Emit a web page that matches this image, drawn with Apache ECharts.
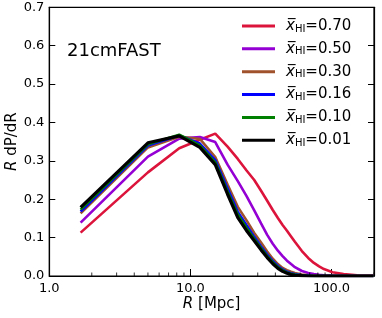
<!DOCTYPE html>
<html>
<head>
<meta charset="utf-8">
<script src="https://cdn.jsdelivr.net/npm/echarts@6/dist/echarts.min.js"></script>
<style>html,body{margin:0;padding:0;background:#fff}#c{width:382px;height:318px}</style>
</head>
<body>
<div id="c"></div>
<script>
// Bin centres R [Mpc]
var R = [1.667, 5, 8.333, 11.667, 15, 18.333, 21.667, 25, 28.333, 31.667, 35, 38.333, 41.667, 45, 48.333, 51.667, 55, 61.667, 68.333, 75, 81.667, 88.333, 101.667, 121.667, 151.667, 198.333];
var seriesNames = ['0.70', '0.50', '0.30', '0.16', '0.10', '0.01'];
var seriesColors = ['#dc143c', '#9400d3', '#a0522d', '#0000ff', '#008000', '#000000'];
var x070 = [0.113, 0.270, 0.333, 0.355, 0.371, 0.337, 0.305, 0.275, 0.250, 0.222, 0.196, 0.172, 0.151, 0.133, 0.118, 0.103, 0.089, 0.065, 0.047, 0.034, 0.025, 0.018, 0.010, 0.005, 0.002, 0.001];
var x050 = [0.139, 0.311, 0.358, 0.362, 0.349, 0.290, 0.247, 0.208, 0.171, 0.137, 0.107, 0.084, 0.066, 0.052, 0.040, 0.031, 0.023, 0.013, 0.008, 0.005, 0.003, 0.002, 0.001, 0, 0, 0];
var x030 = [0.163, 0.335, 0.363, 0.357, 0.310, 0.238, 0.180, 0.145, 0.112, 0.087, 0.064, 0.045, 0.031, 0.021, 0.015, 0.011, 0.008, 0.004, 0.002, 0.001, 0, 0, 0, 0, 0, 0];
var x016 = [0.168, 0.340, 0.366, 0.345, 0.302, 0.228, 0.167, 0.132, 0.102, 0.077, 0.056, 0.039, 0.026, 0.017, 0.011, 0.007, 0.005, 0.002, 0.001, 0, 0, 0, 0, 0, 0, 0];
var x010 = [0.173, 0.343, 0.368, 0.340, 0.296, 0.220, 0.160, 0.125, 0.097, 0.073, 0.052, 0.036, 0.023, 0.015, 0.009, 0.006, 0.004, 0.0015, 0.0005, 0, 0, 0, 0, 0, 0, 0];
var x001 = [0.179, 0.347, 0.365, 0.335, 0.290, 0.213, 0.152, 0.118, 0.092, 0.068, 0.048, 0.032, 0.020, 0.012, 0.007, 0.004, 0.002, 0.001, 0, 0, 0, 0, 0, 0, 0, 0];
var seriesValues = [x070, x050, x030, x016, x010, x001];
var xTickLabels = {1: '1.0', 10: '10.0', 100: '100.0'};
var xMinorTicks = [2, 3, 4, 5, 6, 7, 8, 9, 20, 30, 40, 50, 60, 70, 80, 90, 200];
var yTicks = [0, 0.1, 0.2, 0.3, 0.4, 0.5, 0.6, 0.7];

var FONT = 'DejaVu Sans';
var chart = echarts.init(document.getElementById('c'), null, {renderer: 'canvas'});

var series = seriesNames.map(function (n, i) {
  return {
    name: n,
    type: 'line',
    showSymbol: false,
    symbol: 'none',
    smooth: false,
    data: R.map(function (r, j) { return [r, seriesValues[i][j]]; }),
    lineStyle: {color: seriesColors[i], width: i === 5 ? 3.2 : 2.6},
    itemStyle: {color: seriesColors[i]},
    z: 2 + i
  };
});
series.push({
  name: 'minor',
  type: 'scatter',
  silent: true,
  symbol: 'rect',
  symbolSize: [1, 3.5],
  symbolOffset: [0, -1.75],
  itemStyle: {color: '#000'},
  data: xMinorTicks.map(function (v) { return [v, 0]; }),
  z: 10
});

chart.setOption({
  animation: false,
  backgroundColor: '#fff',
  textStyle: {fontFamily: FONT},
  grid: {left: 49.3, right: 8, top: 7.3, bottom: 42, show: true, borderColor: '#000', borderWidth: 1.2, backgroundColor: 'transparent', containLabel: false, outerBoundsMode: 'none'},
  title: {
    text: '21cmFAST', left: 67, top: 42, padding: 0,
    textStyle: {fontFamily: FONT, fontSize: 18, fontWeight: 'normal', color: '#000'}
  },
  legend: {
    data: seriesNames,
    orient: 'vertical',
    left: 242, top: 16,
    itemWidth: 33, itemHeight: 3,
    itemGap: 2.85,
    icon: 'rect',
    padding: 0,
    formatter: function (n) { return '{x|x\u0305}{s|HI}{v|=' + n + '}'; },
    textStyle: {
      fontFamily: FONT, fontSize: 15, color: '#000', lineHeight: 20, padding: [0, 0, 0, 6],
      rich: {
        x: {fontFamily: FONT, fontSize: 15, fontStyle: 'italic', lineHeight: 20, color: '#000'},
        s: {fontFamily: FONT, fontSize: 10, color: '#000', verticalAlign: 'bottom', padding: [0, 0, 2, 0]},
        v: {fontFamily: FONT, fontSize: 15, lineHeight: 20, color: '#000'}
      }
    }
  },
  xAxis: {
    type: 'log', logBase: 10, min: 1, max: 200,
    name: '{i|R} [Mpc]', nameLocation: 'middle', nameGap: 21, nameMoveOverlap: false,
    nameTextStyle: {fontFamily: FONT, fontSize: 15, color: '#000', rich: {i: {fontFamily: FONT, fontSize: 15, fontStyle: 'italic', color: '#000'}}},
    axisLine: {show: true, lineStyle: {color: '#000', width: 1.2}},
    axisTick: {show: true, inside: true, length: 7, lineStyle: {color: '#000', width: 1}},
    minorTick: {show: false},
    splitLine: {show: false},
    axisLabel: {
      fontFamily: FONT, fontSize: 13, color: '#000', margin: 6,
      formatter: function (v) { return xTickLabels[Math.round(v)] || ''; }
    }
  },
  yAxis: [{
    type: 'value', min: 0, max: 0.7, interval: 0.1,
    name: '{i|R} dP/dR', nameLocation: 'middle', nameGap: 30, nameMoveOverlap: false,
    nameTextStyle: {fontFamily: FONT, fontSize: 15, color: '#000', rich: {i: {fontFamily: FONT, fontSize: 15, fontStyle: 'italic', color: '#000'}}},
    axisLine: {show: true, lineStyle: {color: '#000', width: 1.2}},
    axisTick: {show: true, inside: true, length: 6, lineStyle: {color: '#000', width: 1}},
    splitLine: {show: false},
    axisLabel: {
      fontFamily: FONT, fontSize: 13, color: '#000', margin: 5,
      formatter: function (v) {
        for (var k = 0; k < yTicks.length; k++) { if (Math.abs(yTicks[k] - v) < 1e-6) return yTicks[k].toFixed(1); }
        return '';
      }
    }
  }, {
    type: 'value', min: 0, max: 0.7, interval: 0.1, position: 'right',
    axisLine: {show: true, lineStyle: {color: '#000', width: 1.2}},
    axisTick: {show: true, inside: true, length: 6, lineStyle: {color: '#000', width: 1}},
    axisLabel: {show: false},
    splitLine: {show: false}
  }],
  series: series
});
</script>
</body>
</html>
